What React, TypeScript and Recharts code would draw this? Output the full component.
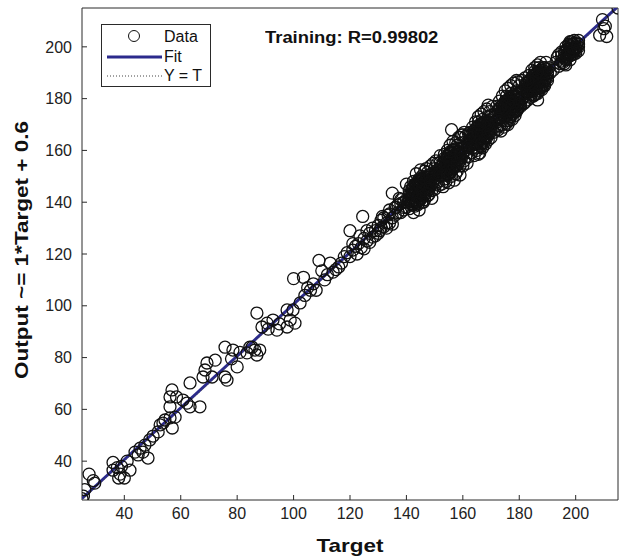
import React from 'react';
import { ScatterChart, Scatter, XAxis, YAxis, Legend } from 'recharts';

// [target, output] pairs
const lowRange: [number, number][] = [
  [25, 25.5], [25.5, 26.5], [26, 29], [27.5, 35], [29, 32.5], [29.5, 31.5],
  [36, 39.5], [36, 36.5], [37.5, 37.5], [38.5, 35], [38, 33.5], [39, 38], [40, 33.5], [42, 36.5], [41, 40],
  [43.8, 43.5], [44.9, 42.4], [45.6, 45], [46.6, 43.5], [47.3, 46.2], [48.4, 41.2], [49, 48.2],
  [50.2, 49.7], [52, 51.3], [52.7, 54], [53.7, 54.7], [54.4, 55.9], [56.2, 56.7], [58, 57], [57, 52.8],
  [56.9, 67.5], [56.2, 64.8], [58.5, 64.8], [56.2, 61], [60.8, 63.6], [62.2, 62.4], [63.3, 61], [66.8, 61],
  [63.3, 70.2], [67.9, 72.5], [68.6, 75.2], [72.2, 79], [69.3, 77.9], [71.1, 72.5], [75.7, 72.5], [76.4, 71.3],
  [75.7, 84], [78.5, 82.9], [80, 76.4], [78, 79.5], [81, 82], [83.5, 81.8], [84.5, 84], [85.3, 84],
  [87, 97.2], [86.3, 82.9], [88, 82.9], [87, 81], [88.8, 91.8], [90.6, 93.3], [91, 91], [92.7, 94.5],
  [94.1, 90.6], [95, 93], [97.7, 91.8], [98.8, 94.5], [99.8, 98.4], [97.7, 98.4], [100.5, 93.3], [102.3, 101.1],
];

const midRange: [number, number][] = [
  [100, 110.5], [103.5, 111], [105, 107], [104, 104], [106, 106], [107, 108.5], [108, 106], [109, 117.5],
  [110, 113.5], [111, 110], [112, 112], [113, 116.5], [114, 113], [115, 114], [116, 115], [117, 116.5],
  [118, 119], [119, 120.5], [120, 119], [121, 121.5], [120, 129], [122, 123], [123, 124], [124, 122.5],
  [124.5, 134.5], [125, 126], [126, 125], [127, 128], [128, 126.5], [129, 129], [130, 131], [130.5, 129],
  [131, 133], [131.5, 134.5], [132, 130.5], [133, 132], [133.5, 135], [134, 132], [135, 143.5], [136.5, 138],
  [137.5, 141.5], [138, 136], [139, 140], [140, 147], [142.5, 136], [144.5, 137],
  [134, 135.5], [135, 134], [136, 138], [137, 136], [138, 139.5], [139, 138], [140, 141],
  [121, 124], [122.5, 120], [123.5, 127], [125, 122], [126, 129], [127, 124.5], [128, 130], [129, 127],
  [130, 128], [131, 130], [132, 134], [133, 130], [134, 137], [135, 131.5], [136, 135], [137, 139],
  [138, 141], [139, 137], [140, 138], [141, 141], [142, 139],
];

const clusterA: [number, number][] = [
  [141, 143], [141.5, 139.5], [142, 145], [142.5, 141], [143, 147], [143, 144], [143.5, 140], [144, 146],
  [144, 142.5], [144.5, 149], [145, 145], [145, 141.5], [145.5, 147.5], [145.5, 150], [146, 143.5], [146, 146],
  [146.5, 148], [146.5, 152], [147, 145], [147, 149.5], [147.5, 142.5], [147.5, 147], [148, 150.5], [148, 146],
  [148.5, 148.5], [149, 144.5], [149, 151], [149.5, 147.5], [150, 149], [150, 153], [150.5, 150.5], [151, 148],
  [141, 137.5], [141.5, 146], [142, 140.5], [142.5, 148], [143, 138.5], [143.5, 151], [144, 139], [144.5, 144],
  [145, 152.5], [145.5, 140], [146, 149.5], [146.5, 141], [147, 153], [147.5, 151.5], [148, 143], [148.5, 154],
  [149, 141.5], [149.5, 155], [150, 145], [150.5, 147], [151, 152.5], [144, 148], [146, 140], [148, 148],
  [142, 143], [143.5, 146], [145, 143], [147, 147], [149, 149], [150, 151],
];

const coreA: [number, number][] = [
  [141, 141], [141.5, 143], [142, 141.5], [142, 144], [142.5, 143], [142.5, 146], [143, 141], [143, 145.5],
  [143.5, 143.5], [143.5, 147], [144, 142], [144, 144.5], [144, 147.5], [144.5, 140.5], [144.5, 143], [144.5, 146],
  [145, 144], [145, 148], [145.5, 142], [145.5, 145], [145.5, 149], [146, 144.5], [146, 147], [146.5, 143],
  [146.5, 146.5], [147, 145], [147, 148.5], [147.5, 146], [147.5, 149.5], [148, 147.5], [148, 145], [143, 143],
  [144, 145.5], [145, 146.5], [146, 142.5], [142, 139.5], [147, 143.5], [148.5, 150], [140.5, 140], [143.5, 139.5],
  [145, 141], [146, 149.5], [141, 144.5], [148.5, 146], [144.5, 148.5],
];

const clusterB: [number, number][] = [
  [152, 150], [152, 153.5], [152.5, 147], [153, 155], [153, 151.5], [153.5, 149], [154, 156.5], [154, 153],
  [154.5, 150.5], [155, 158], [155, 154.5], [155, 151], [155.5, 156], [156, 159.5], [156, 153], [156.5, 157],
  [157, 154.5], [157, 160.5], [157.5, 151], [157.5, 158], [158, 156], [158, 162], [158.5, 159.5], [159, 157],
  [159, 154], [159.5, 161], [160, 158.5], [160, 163], [160.5, 156], [161, 160], [161.5, 163], [151, 155],
  [150.5, 156], [156, 168], [159, 165], [160, 166], [161, 165.5], [165.5, 158.5],
  [151.5, 146.5], [152, 158], [152.5, 152], [153, 146], [153.5, 158.5], [154, 148], [154.5, 160], [155, 147.5],
  [155.5, 162], [156, 150], [156.5, 163.5], [157, 148.5], [157.5, 163], [158, 152], [158.5, 165], [159, 150.5],
  [159.5, 166], [160, 154], [160.5, 167], [161, 157.5], [161.5, 155], [162, 166.5], [153, 153], [155, 156],
  [157, 157], [159, 159], [161, 162], [154, 151], [156, 155], [158, 158.5],
];

const coreB: [number, number][] = [
  [152, 152], [152.5, 154], [153, 152.5], [153, 155], [153.5, 154], [153.5, 157], [154, 152], [154, 156.5],
  [154.5, 154.5], [154.5, 158], [155, 153], [155, 155.5], [155, 158.5], [155.5, 151.5], [155.5, 154], [155.5, 157],
  [156, 155], [156, 159], [156.5, 153], [156.5, 156], [156.5, 160], [157, 155.5], [157, 158], [157.5, 154],
  [157.5, 157.5], [158, 156], [158, 159.5], [158.5, 157], [158.5, 160.5], [159, 158.5], [159, 156], [154, 154],
  [155, 156.5], [156, 157.5], [157, 153.5], [153, 150.5], [158, 154.5], [159.5, 161], [151.5, 151], [154.5, 150.5],
  [156, 152], [157, 160.5], [152, 155.5], [159.5, 157], [155.5, 159.5],
];

const clusterC: [number, number][] = [
  [162, 161], [162.5, 164], [163, 159], [163, 166], [163.5, 162.5], [164, 167.5], [164, 160.5], [164.5, 164.5],
  [165, 169], [165, 162.5], [165.5, 166], [165.5, 171], [166, 164], [166, 168], [166.5, 161.5], [166.5, 170],
  [167, 166.5], [167, 172], [167.5, 163], [167.5, 168.5], [168, 171], [168, 165.5], [168.5, 169], [169, 173],
  [169, 167], [169.5, 170.5], [170, 168.5], [170, 173.5], [171, 171], [171.5, 169], [169, 177.5],
  [162, 157.5], [162.5, 167], [163, 162], [163.5, 169], [164, 158], [164.5, 171], [165, 160], [165.5, 173],
  [166, 159], [166.5, 174], [167, 161], [167.5, 175], [168, 162.5], [168.5, 176], [169, 164], [169.5, 175],
  [170, 165], [170.5, 177], [171, 167], [171.5, 174.5], [164, 165], [166, 166], [168, 168], [170, 170],
  [165, 167], [167, 164.5], [169, 171], [163, 164], [171, 173], [172, 168.5],
];

const coreC: [number, number][] = [
  [162.5, 162.5], [163, 164.5], [163.5, 163], [163.5, 165.5], [164, 164.5], [164, 167.5], [164.5, 162.5], [164.5, 167],
  [165, 165], [165, 168.5], [165.5, 163.5], [165.5, 166], [165.5, 169], [166, 162], [166, 164.5], [166, 167.5],
  [166.5, 165.5], [166.5, 169.5], [167, 163.5], [167, 166.5], [167, 170.5], [167.5, 166], [167.5, 168.5], [168, 164.5],
  [168, 168], [168.5, 166.5], [168.5, 170], [169, 167.5], [169, 171], [169.5, 169], [169.5, 166.5], [164.5, 164.5],
  [165.5, 167], [166.5, 168], [167.5, 164], [163.5, 161], [168.5, 165], [170, 171.5], [162, 161.5], [165, 161],
  [166.5, 162.5], [167.5, 171], [162.5, 166], [170, 167.5], [166, 170],
];

const clusterD: [number, number][] = [
  [172, 171], [172.5, 174], [173, 169.5], [173, 176], [173.5, 172.5], [174, 177.5], [174, 170], [174.5, 175],
  [175, 179], [175, 172.5], [175.5, 176.5], [175.5, 181], [176, 174], [176, 178], [176.5, 171.5], [176.5, 180],
  [177, 176.5], [177, 182], [177.5, 174], [177.5, 179], [178, 181], [178, 176], [178.5, 178], [179, 183],
  [179, 175], [179.5, 180], [180, 178], [180, 182], [181, 180], [181.5, 183], [179.5, 186.5], [176, 170],
  [172, 177], [172.5, 168], [173, 179], [173.5, 167.5], [174, 181], [174.5, 169], [175, 183], [175.5, 170.5],
  [176, 184], [176.5, 173], [177, 185], [177.5, 172], [178, 186], [178.5, 173.5], [179, 187], [179.5, 176],
  [180, 185], [180.5, 177], [181, 187], [181.5, 178], [174, 174], [176, 176], [178, 178], [180, 180],
  [175, 177], [177, 179], [179, 181], [173, 172], [182, 183], [182, 178.5],
];

const coreD: [number, number][] = [
  [173, 173], [173.5, 175], [174, 173.5], [174, 176], [174.5, 175], [174.5, 178], [175, 173], [175, 177.5],
  [175.5, 175.5], [175.5, 179], [176, 174], [176, 176.5], [176, 179.5], [176.5, 172.5], [176.5, 175], [176.5, 178],
  [177, 176], [177, 180], [177.5, 174], [177.5, 177], [177.5, 181], [178, 176.5], [178, 179], [178.5, 175],
  [178.5, 178.5], [179, 177], [179, 180.5], [179.5, 178], [179.5, 181.5], [180, 179.5], [180, 177], [175, 175],
  [176, 177.5], [177, 178.5], [178, 174.5], [174, 171.5], [179, 175.5], [180.5, 182], [172.5, 172], [175.5, 171.5],
  [177, 173], [178, 181.5], [173, 176.5], [180.5, 178], [176.5, 180.5],
];

const clusterE: [number, number][] = [
  [182, 181], [182.5, 184], [183, 179.5], [183, 186], [183.5, 182.5], [184, 187.5], [184, 180.5], [184.5, 185],
  [185, 189], [185, 183], [185.5, 186], [185.5, 190.5], [186, 184], [186, 188], [186.5, 182], [186.5, 190],
  [187, 187], [187, 192], [187.5, 184.5], [187.5, 189], [188, 190], [188, 186], [188.5, 188.5], [189, 192],
  [189, 187], [190, 190], [182, 188], [186.5, 179.5],
  [182.5, 186], [183, 182.5], [183.5, 189], [184, 183], [184.5, 191], [185, 181], [185.5, 192], [186, 186],
  [186.5, 193], [187, 184], [187.5, 194], [188, 183.5], [188.5, 192], [189, 185], [189.5, 194], [190, 188],
  [190.5, 192], [191, 190], [184, 185], [186, 187], [188, 188], [185, 186.5], [187, 189.5], [189, 189.5], [183, 184],
];

const coreE: [number, number][] = [
  [183, 183], [183.5, 185], [184, 183.5], [184, 186], [184.5, 185], [184.5, 188], [185, 183], [185, 187.5],
  [185.5, 185.5], [185.5, 189], [186, 184], [186, 186.5], [186, 189.5], [186.5, 182.5], [186.5, 185], [186.5, 188],
  [187, 186], [187, 190], [187.5, 184], [187.5, 187], [187.5, 191], [188, 186.5], [188, 189], [188.5, 185],
  [188.5, 188.5], [189, 187], [189, 190.5], [189.5, 188], [189.5, 191.5], [190, 189.5], [190, 187], [185, 185],
  [186, 187.5], [187, 188.5], [188, 184.5], [184, 181.5], [189, 185.5], [182.5, 182], [185.5, 181.5], [187, 183],
  [188, 191.5], [183, 186.5], [186.5, 190.5],
];

const topRange: [number, number][] = [
  [192, 191], [193, 194], [194, 192.5], [195, 196.5], [195.5, 194], [196, 198], [196.5, 195.5], [197, 199],
  [197.5, 197], [198, 200], [198, 197.5], [198.5, 198.5], [199, 201], [199.5, 199], [200, 200], [200.5, 201.5],
  [193.5, 196], [194, 197], [195, 198], [195, 194.5], [196, 193.5], [196.5, 200], [197, 196], [197.5, 201],
  [198, 195], [198.5, 202], [199, 197.5], [199.5, 202.5], [200, 198.5], [201, 200], [201, 202.5], [194.5, 193.5],
  [197, 197.5], [199, 199.5],
  [196, 196], [196.5, 198], [197, 196.5], [197, 199], [197.5, 198], [197.5, 200.5], [198, 196.5], [198, 199.5],
  [198.5, 198], [198.5, 201], [199, 197], [199, 199.5], [199.5, 198.5], [199.5, 201.5], [200, 199.5], [200, 197.5],
  [200.5, 200], [201, 201], [196.5, 195], [198, 202], [201, 198.5],
  [196.5, 193], [208.5, 204.5], [209.5, 210.5], [210.5, 208], [211, 204], [210, 207], [215, 215],
];

const ticks = [40, 60, 80, 100, 120, 140, 160, 180, 200];
const axisDomain: [number, number] = [25, 215];

const fitSlope = 1;
const fitIntercept = 0.6;

const points = [
  ...lowRange, ...midRange,
  ...clusterA, ...coreA, ...clusterB, ...coreB, ...clusterC, ...coreC,
  ...clusterD, ...coreD, ...clusterE, ...coreE, ...topRange,
].map(([target, output]) => ({ target, output }));
const fitLine = axisDomain.map((t) => ({ target: t, output: fitSlope * t + fitIntercept }));
const identityLine = axisDomain.map((t) => ({ target: t, output: t }));

const FONT = '"Liberation Sans", Arial, sans-serif';
const AXIS = '#2a2a2a';
const FIT = '#2b2a8c';

const tickStyle = { fill: '#222', fontSize: 16, fontFamily: FONT };

function LegendBox() {
  const row = { display: 'flex', alignItems: 'center', height: 19.5 } as const;
  return (
    <div style={{ border: `1px solid ${AXIS}`, background: '#fff', width: 110, height: 63, boxSizing: 'border-box',
      paddingTop: 2, fontFamily: FONT, fontSize: 16, color: '#111', lineHeight: '19px' }}>
      <div style={row}>
        <svg width={62} height={19}><circle cx={32} cy={9} r={5.5} fill="none" stroke="#111" /></svg>
        <span>Data</span>
      </div>
      <div style={row}>
        <svg width={62} height={19}><line x1={5} x2={60} y1={10} y2={10} stroke={FIT} strokeWidth={3} /></svg>
        <span>Fit</span>
      </div>
      <div style={row}>
        <svg width={62} height={19}><line x1={5} x2={60} y1={10} y2={10} stroke="#444" strokeWidth={1} strokeDasharray="1 2" /></svg>
        <span>Y = T</span>
      </div>
    </div>
  );
}

export default function App() {
  return (
    <div style={{ position: 'absolute', left: 0, top: 0, width: 623, height: 558, background: '#fff' }}>
      <ScatterChart width={623} height={558} margin={{ top: 7, right: 4, bottom: 0, left: 0 }}>
        <XAxis
          xAxisId="b" dataKey="target" type="number" domain={axisDomain} ticks={ticks} allowDataOverflow
          height={58} stroke={AXIS} tickSize={-5} tickMargin={13} tick={tickStyle}
          label={({ viewBox }: any) => (
            <text x={viewBox.x + viewBox.width / 2} y={viewBox.y + 52} textAnchor="middle"
              textLength={67} lengthAdjust="spacingAndGlyphs"
              fontFamily={FONT} fontWeight="bold" fontSize={19} fill="#111">Target</text>
          )}
        />
        <XAxis xAxisId="t" orientation="top" type="number" domain={axisDomain} ticks={ticks} allowDataOverflow
          height={1} stroke={AXIS} tickSize={-5} tick={false} />
        <YAxis
          yAxisId="l" dataKey="output" type="number" domain={axisDomain} ticks={ticks} allowDataOverflow
          width={82} stroke={AXIS} tickSize={-5} tickMargin={15} tick={tickStyle}
          label={({ viewBox }: any) => {
            const x = 28, y = viewBox.y + viewBox.height / 2 - 4;
            return (
              <text x={x} y={y} transform={`rotate(-90 ${x} ${y})`} textAnchor="middle"
                textLength={258} lengthAdjust="spacingAndGlyphs"
                fontFamily={FONT} fontWeight="bold" fontSize={18} fill="#111">Output ~= 1*Target + 0.6</text>
            );
          }}
        />
        <YAxis yAxisId="r" orientation="right" type="number" domain={axisDomain} ticks={ticks} allowDataOverflow
          width={1} stroke={AXIS} tickSize={-5} tick={false} />
        <Legend layout="horizontal" verticalAlign="middle" align="center"
          wrapperStyle={{ top: 24, left: 101, width: 110, height: 63 }} content={() => <LegendBox />} />
        <Scatter xAxisId="b" yAxisId="l" data={fitLine} isAnimationActive={false} legendType="none"
          line={{ stroke: FIT, strokeWidth: 3 }} shape={() => null} />
        <Scatter xAxisId="b" yAxisId="l" data={identityLine} isAnimationActive={false} legendType="none"
          line={{ stroke: '#555', strokeWidth: 1, strokeDasharray: '1 2' }} shape={() => null} />
        <Scatter xAxisId="b" yAxisId="l" data={points} isAnimationActive={false}
          shape={(p: any) => <circle cx={p.cx} cy={p.cy} r={6} fill="none" stroke="#111" strokeWidth={1.3} />} />
      </ScatterChart>
      <div style={{ position: 'absolute', left: 265, top: 29, fontFamily: FONT, fontWeight: 'bold', fontSize: 16,
        color: '#111', transform: 'scaleX(1.15)', transformOrigin: 'left center', whiteSpace: 'nowrap' }}>
        Training: R=0.99802
      </div>
    </div>
  );
}
